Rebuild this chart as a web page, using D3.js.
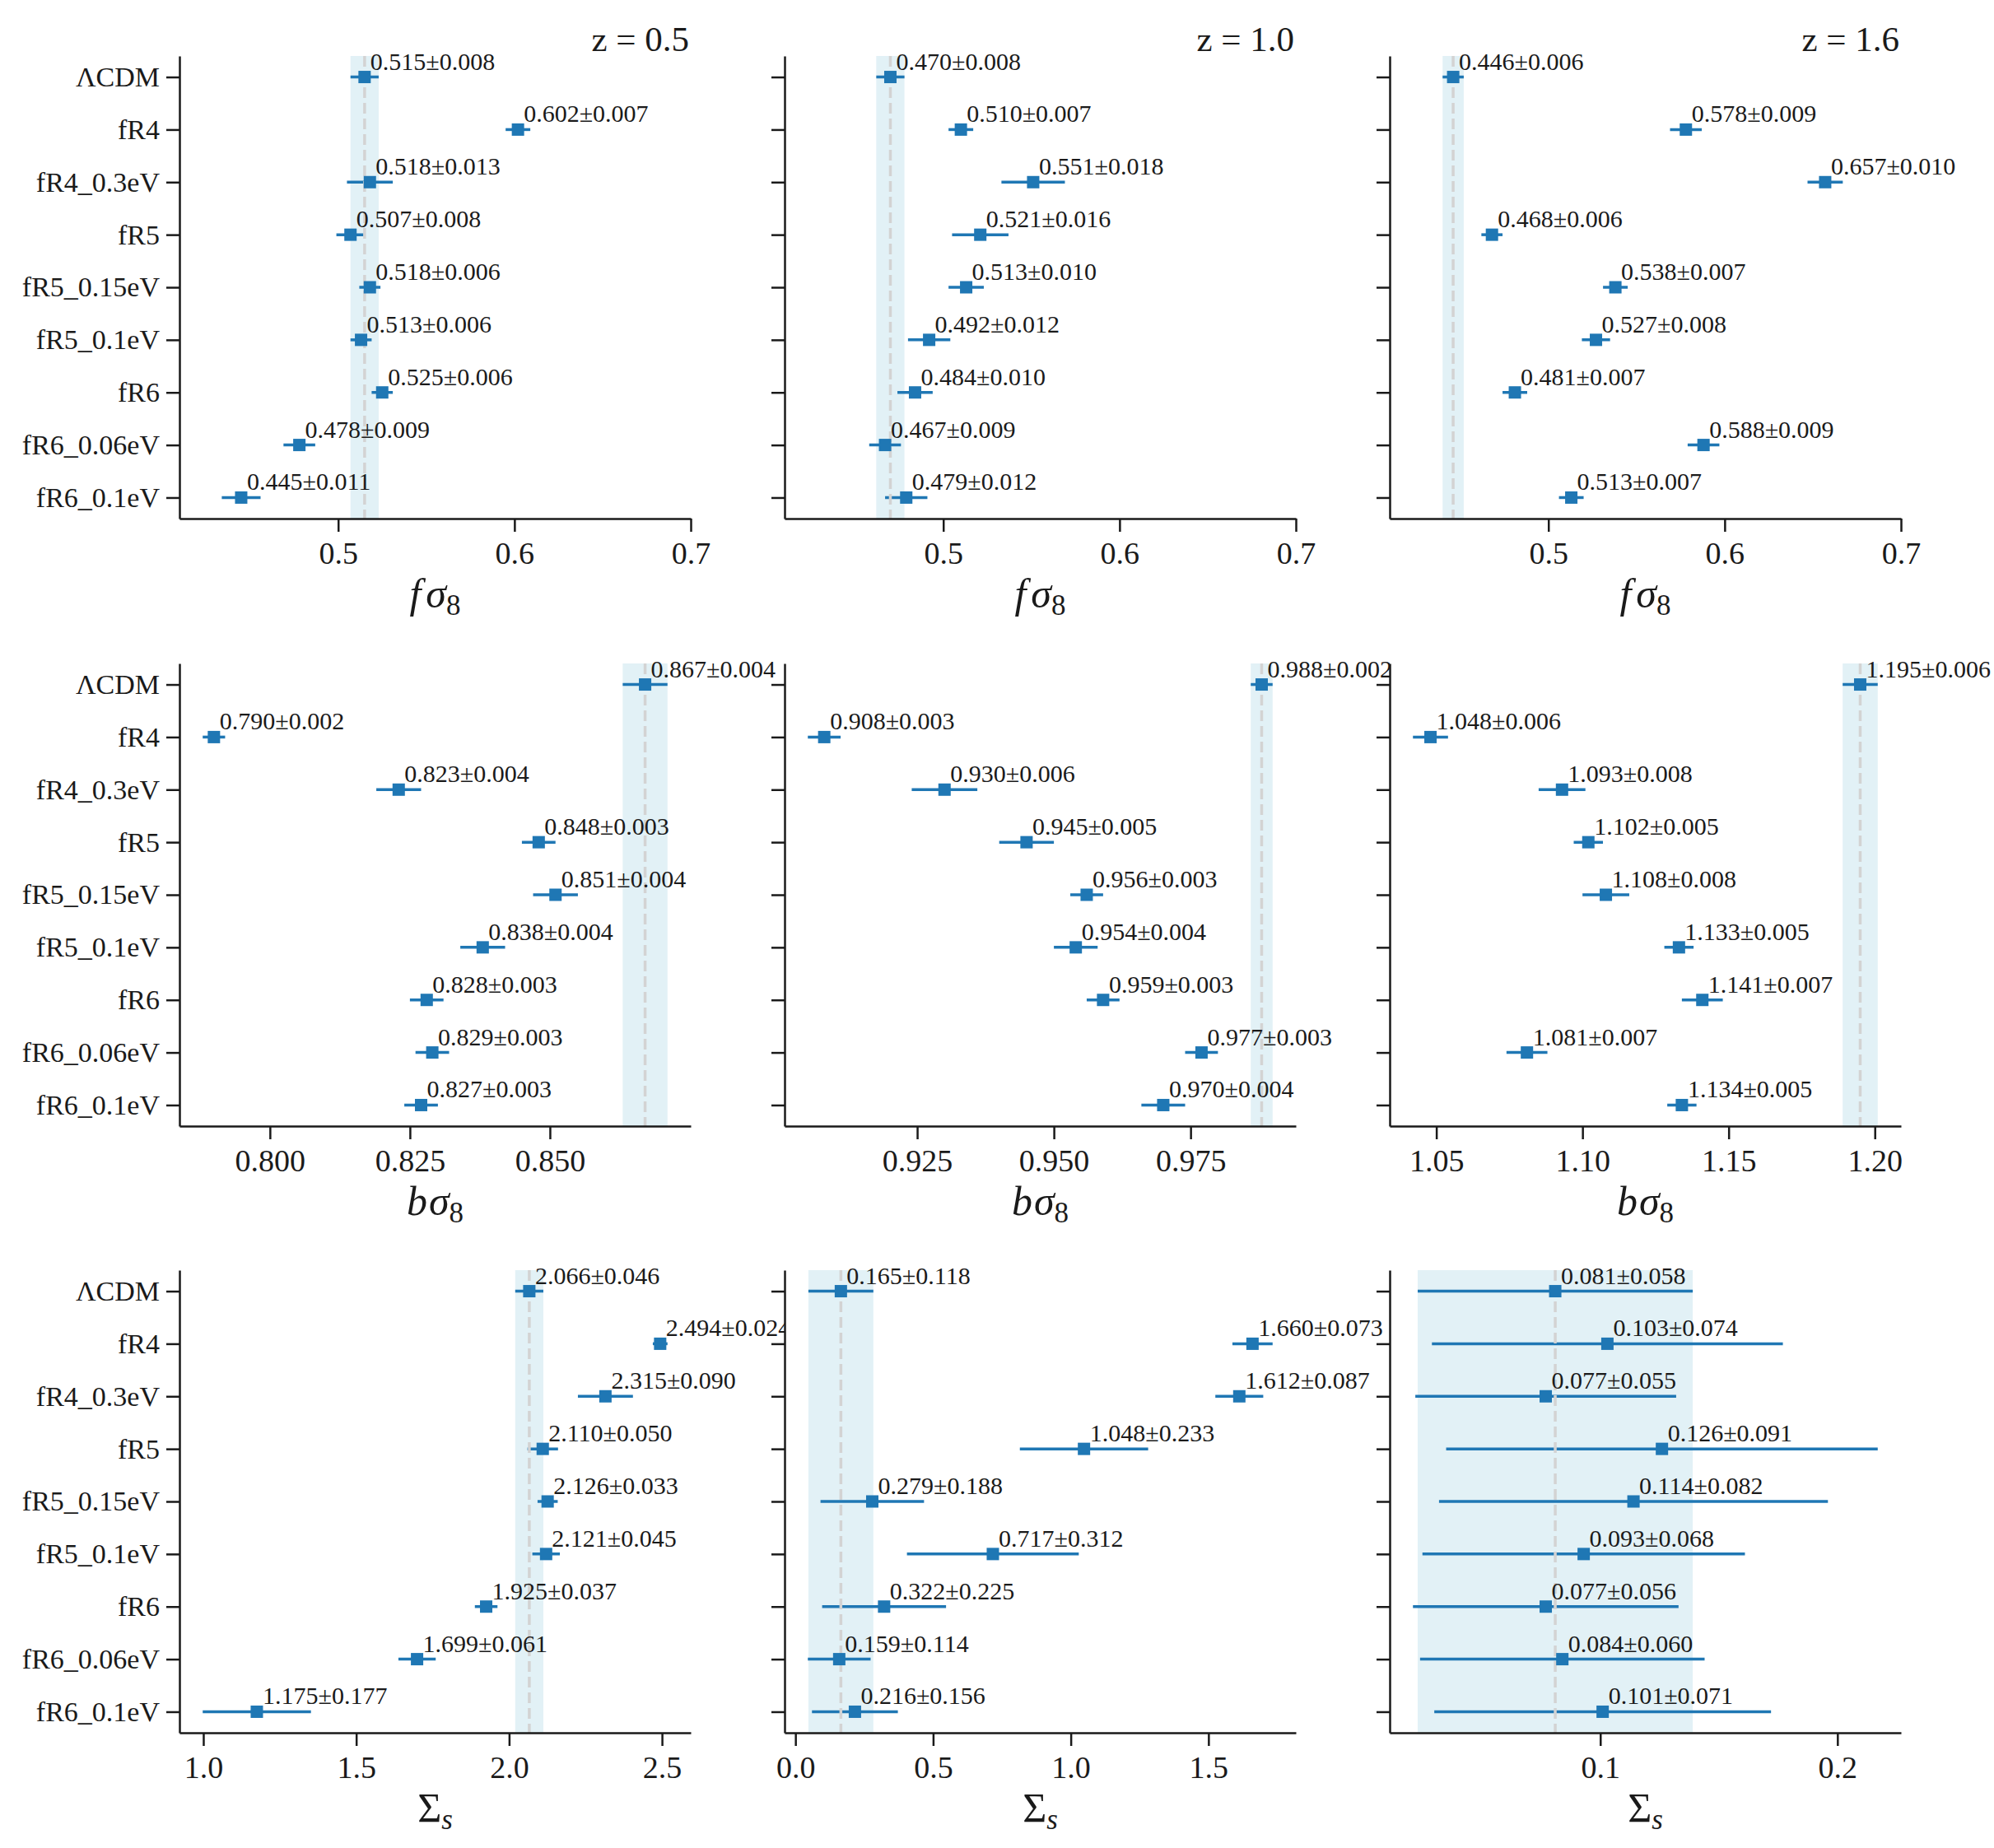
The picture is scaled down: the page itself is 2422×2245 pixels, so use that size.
<!DOCTYPE html>
<html>
<head>
<meta charset="utf-8">
<script src="https://cdn.jsdelivr.net/npm/d3@7"></script>
<style>
  body { margin: 0; background: #fff; }
  text { font-family: "Liberation Serif", "DejaVu Serif", serif; }
</style>
</head>
<body>
<script>
// models on the y axis, top to bottom
const models = ["ΛCDM", "fR4", "fR4_0.3eV", "fR5", "fR5_0.15eV", "fR5_0.1eV", "fR6", "fR6_0.06eV", "fR6_0.1eV"];
const redshifts = ["0.5", "1.0", "1.6"];

// f sigma_8, one list per redshift
const fs8Val = [
    [0.515, 0.602, 0.518, 0.507, 0.518, 0.513, 0.525, 0.478, 0.445],
    [0.470, 0.510, 0.551, 0.521, 0.513, 0.492, 0.484, 0.467, 0.479],
    [0.446, 0.578, 0.657, 0.468, 0.538, 0.527, 0.481, 0.588, 0.513]
];
const fs8Err = [
    [0.008, 0.007, 0.013, 0.008, 0.006, 0.006, 0.006, 0.009, 0.011],
    [0.008, 0.007, 0.018, 0.016, 0.010, 0.012, 0.010, 0.009, 0.012],
    [0.006, 0.009, 0.010, 0.006, 0.007, 0.008, 0.007, 0.009, 0.007]
];

// b sigma_8
const bs8Val = [
    [0.867, 0.790, 0.823, 0.848, 0.851, 0.838, 0.828, 0.829, 0.827],
    [0.988, 0.908, 0.930, 0.945, 0.956, 0.954, 0.959, 0.977, 0.970],
    [1.195, 1.048, 1.093, 1.102, 1.108, 1.133, 1.141, 1.081, 1.134]
];
const bs8Err = [
    [0.004, 0.002, 0.004, 0.003, 0.004, 0.004, 0.003, 0.003, 0.003],
    [0.002, 0.003, 0.006, 0.005, 0.003, 0.004, 0.003, 0.003, 0.004],
    [0.006, 0.006, 0.008, 0.005, 0.008, 0.005, 0.007, 0.007, 0.005]
];

// Sigma_s
const sigVal = [
    [2.066, 2.494, 2.315, 2.110, 2.126, 2.121, 1.925, 1.699, 1.175],
    [0.165, 1.660, 1.612, 1.048, 0.279, 0.717, 0.322, 0.159, 0.216],
    [0.081, 0.103, 0.077, 0.126, 0.114, 0.093, 0.077, 0.084, 0.101]
];
const sigErr = [
    [0.046, 0.024, 0.090, 0.050, 0.033, 0.045, 0.037, 0.061, 0.177],
    [0.118, 0.073, 0.087, 0.233, 0.188, 0.312, 0.225, 0.114, 0.156],
    [0.058, 0.074, 0.055, 0.091, 0.082, 0.068, 0.056, 0.060, 0.071]
];

// tick labels
const fs8Ticks = [[0.5, 0.6, 0.7], [0.5, 0.6, 0.7], [0.5, 0.6, 0.7]];
const bs8Ticks = [[0.800, 0.825, 0.850], [0.925, 0.950, 0.975], [1.05, 1.10, 1.15, 1.20]];
const sigTicks = [[1.0, 1.5, 2.0, 2.5], [0.0, 0.5, 1.0, 1.5], [0.1, 0.2]];
const fs8Limits = [0.41, 0.70];

// layout
const W = 621, H = 562;
const lefts = [218, 953, 1688];
const tops = [68, 806, 1543];
const blue = "#1f77b4";
const ink = "#1a1a1a";

const svg = d3.select("body").append("svg")
    .attr("width", 2422)
    .attr("height", 2245);

svg.append("rect").attr("width", 2422).attr("height", 2245).attr("fill", "#fff");

const rows = [
    {val: fs8Val, err: fs8Err, ticks: fs8Ticks, fmt: [".1f", ".1f", ".1f"], label: "f"},
    {val: bs8Val, err: bs8Err, ticks: bs8Ticks, fmt: [".3f", ".3f", ".2f"], label: "b"},
    {val: sigVal, err: sigErr, ticks: sigTicks, fmt: [".1f", ".1f", ".1f"], label: "S"}
];

rows.forEach((row, r) => {
    redshifts.forEach((z, c) => {
        drawPanel(r, c, row.val[c], row.err[c], row.ticks[c], row.fmt[c], row.label);
    });
});

function drawPanel(r, c, vals, errs, ticks, fmt, label) {
    const g = svg.append("g")
        .attr("transform", "translate(" + lefts[c] + "," + tops[r] + ")");

    // x range: row 1 is fixed, others 5% margins around the error bars
    let domain;
    if (r === 0) {
        domain = fs8Limits;
    } else {
        const lo = d3.min(vals.map((v, i) => v - errs[i]));
        const hi = d3.max(vals.map((v, i) => v + errs[i]));
        const m = (hi - lo) * 0.05;
        domain = [lo - m, hi + m];
    }

    const x = d3.scaleLinear().domain(domain).range([0, W]);
    const y = d3.scalePoint().domain(models).range([0, H]).padding(0.4);

    const data = models.map((m, i) => ({model: m, v: vals[i], e: errs[i]}));
    const ref = data[0];

    // axes background
    g.append("rect").attr("width", W).attr("height", H).attr("fill", "#fff");

    // LCDM band and reference line
    g.append("rect")
        .attr("x", x(ref.v - ref.e))
        .attr("width", x(ref.v + ref.e) - x(ref.v - ref.e))
        .attr("y", 0)
        .attr("height", H)
        .attr("fill", "#add8e6")
        .attr("fill-opacity", 0.35);

    // error bars
    g.selectAll(".eb").data(data).enter().append("line")
        .attr("x1", d => x(d.v - d.e))
        .attr("x2", d => x(d.v + d.e))
        .attr("y1", d => y(d.model))
        .attr("y2", d => y(d.model))
        .attr("stroke", blue)
        .attr("stroke-width", 3.5);

    g.append("line")
        .attr("x1", x(ref.v)).attr("x2", x(ref.v))
        .attr("y1", 0).attr("y2", H)
        .attr("stroke", "#d3d3d3")
        .attr("stroke-width", 3.5)
        .attr("stroke-dasharray", "13,6");

    // square markers
    const ms = 15;
    g.selectAll(".pt").data(data).enter().append("rect")
        .attr("x", d => x(d.v) - ms / 2)
        .attr("y", d => y(d.model) - ms / 2)
        .attr("width", ms)
        .attr("height", ms)
        .attr("fill", blue);

    // axes
    const xAxis = g.append("g")
        .attr("transform", "translate(0," + H + ")")
        .call(d3.axisBottom(x).tickValues(ticks).tickFormat(d3.format(fmt))
            .tickSize(16).tickSizeOuter(0).tickPadding(12));
    const yAxis = g.append("g")
        .call(d3.axisLeft(y).tickSize(16).tickSizeOuter(0).tickPadding(8));

    [xAxis, yAxis].forEach(a => {
        a.select(".domain").attr("stroke", ink).attr("stroke-width", 2.5);
        a.selectAll(".tick line").attr("stroke", ink).attr("stroke-width", 2.5);
        a.selectAll(".tick text")
            .attr("fill", ink)
            .style("font-family", "'Liberation Serif', serif");
    });
    xAxis.selectAll(".tick text").style("font-size", "38px");
    yAxis.selectAll(".tick text").style("font-size", "34px");
    if (c > 0) yAxis.selectAll(".tick text").remove();

    // value labels
    const f3 = d3.format(".3f");
    g.selectAll(".lab").data(data).enter().append("text")
        .attr("x", d => x(d.v) + 7)
        .attr("y", d => y(d.model) - 9)
        .attr("fill", ink)
        .style("font-size", "30px")
        .text(d => f3(d.v) + "±" + f3(d.e));

    // redshift titles
    if (r === 0) {
        g.append("text")
            .attr("x", W - 2)
            .attr("y", -6)
            .attr("text-anchor", "end")
            .attr("fill", ink)
            .style("font-size", "43px")
            .text("z = " + redshifts[c]);
    }

    // x label
    const xl = g.append("text")
        .attr("x", W / 2)
        .attr("y", H + 108)
        .attr("text-anchor", "middle")
        .attr("fill", ink)
        .style("font-size", "50px");
    if (label === "S") {
        xl.append("tspan").text("Σ");
        xl.append("tspan").attr("font-style", "italic").attr("font-size", "35px").attr("dy", 9).text("s");
    } else {
        xl.append("tspan").attr("font-style", "italic").text(label);
        xl.append("tspan").attr("font-style", "italic").attr("dx", label === "f" ? 6 : 2).text("σ");
        xl.append("tspan").attr("font-size", "35px").attr("dy", 9).text("8");
    }
}
</script>
</body>
</html>
